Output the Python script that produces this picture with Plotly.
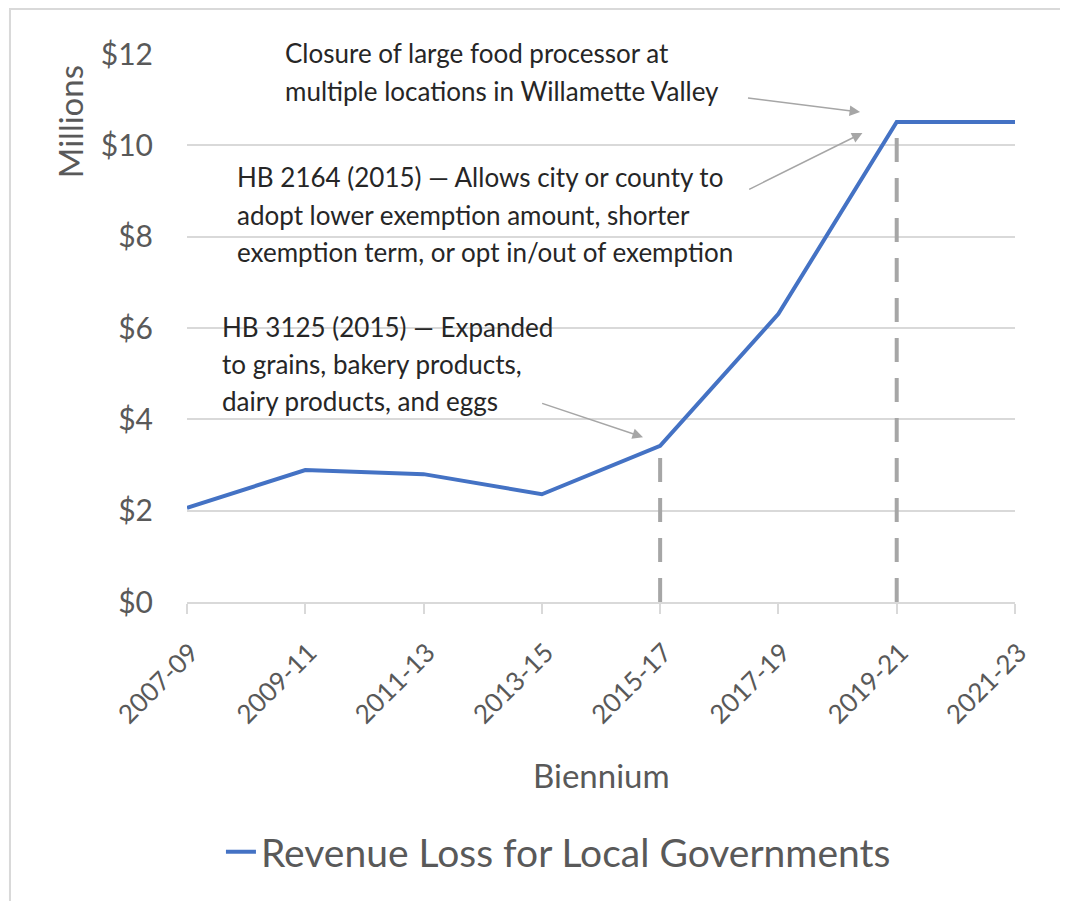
import plotly.graph_objects as go

# data
biennia = ["2007-09", "2009-11", "2011-13", "2013-15", "2015-17", "2017-19", "2019-21", "2021-23"]
revenue_loss = [2.06, 2.89, 2.80, 2.36, 3.42, 6.31, 10.51, 10.51]  # $ millions
y_ticks = [0, 2, 4, 6, 8, 10, 12]
y_tick_labels = ["$0", "$2", "$4", "$6", "$8", "$10", "$12"]
marked = [4, 6]  # biennia with policy / closure markers

note_closure = ["Closure of large food processor at",
                "multiple locations in Willamette Valley"]
note_hb2164 = ["HB 2164 (2015) \u2014 Allows city or county to",
               "adopt lower exemption amount, shorter",
               "exemption term, or opt in/out of exemption"]
note_hb3125 = ["HB 3125 (2015) \u2014 Expanded",
               "to grains, bakery products,",
               "dairy products, and eggs"]

FONT = "Lato"
GREY_TXT = "#595959"
GRID = "#D9D9D9"
ARROW = "#A6A6A6"

xs = list(range(len(biennia)))

fig = go.Figure()

for i in marked:
    fig.add_trace(go.Scatter(
        x=[xs[i], xs[i]], y=[0, revenue_loss[i]],
        mode="lines",
        line=dict(color=ARROW, width=4, dash="24px,16px"),
        showlegend=False, hoverinfo="skip"
    ))

fig.add_trace(go.Scatter(
    x=xs, y=revenue_loss,
    mode="lines",
    line=dict(color="#4472C4", width=4),
    name="Revenue Loss for Local Governments"
))

annotations = []

def text_block(lines, x, ys):
    # one annotation per line so the line spacing can follow the original
    for line, y in zip(lines, ys):
        annotations.append(dict(
            x=x, y=y, xref="paper", yref="paper", text=line, showarrow=False,
            xanchor="left", yanchor="middle",
            font=dict(family=FONT, size=26, color="#262626")
        ))

text_block(note_closure, 0.1159, [1.0018, 0.9325])
text_block(note_hb2164, 0.058, [0.7755, 0.7062, 0.6387])
text_block(note_hb3125, 0.0399, [0.5018, 0.4343, 0.3668])

# arrows: (head x, head y, tail x, tail y) in data units
for hx, hy, tx, ty in [(5.69, 10.73, 4.73, 11.04),
                       (5.71, 10.27, 4.74, 9.02),
                       (3.855, 3.61, 2.99, 4.36)]:
    annotations.append(dict(
        x=hx, y=hy, ax=tx, ay=ty, xref="x", yref="y", axref="x", ayref="y",
        text="", showarrow=True, arrowhead=2, arrowsize=1.4, arrowwidth=1.5,
        arrowcolor=ARROW
    ))

annotations.append(dict(
    x=-0.141, y=0.876, xref="paper", yref="paper", text="Millions",
    textangle=-90, showarrow=False, xanchor="center", yanchor="middle",
    font=dict(family=FONT, size=33, color=GREY_TXT)
))
annotations.append(dict(
    x=0.501, y=-0.316, xref="paper", yref="paper", text="Biennium",
    showarrow=False, xanchor="center", yanchor="middle",
    font=dict(family=FONT, size=33, color=GREY_TXT)
))

fig.update_layout(
    width=1060, height=893,
    margin=dict(l=179, r=53, t=46, b=299),
    paper_bgcolor="white", plot_bgcolor="white",
    font=dict(family=FONT, color=GREY_TXT),
    xaxis=dict(
        range=[0, 7], tickvals=xs, ticktext=biennia, tickangle=-45,
        tickfont=dict(size=26, color=GREY_TXT),
        showgrid=False, zeroline=False,
        showline=True, linecolor=GRID, linewidth=2,
        ticks="outside", ticklen=10, tickcolor=GRID, tickwidth=2,
        ticklabelstandoff=13, ticklabelshift=4,
    ),
    yaxis=dict(
        range=[0, 12], tickvals=y_ticks, ticktext=y_tick_labels,
        tickfont=dict(size=30, color=GREY_TXT),
        showgrid=True, gridcolor=GRID, gridwidth=1.5,
        zeroline=False, showline=False, ticks="", ticklabelstandoff=33,
    ),
    showlegend=True,
    legend=dict(
        orientation="h", x=0.041, y=-0.456, xanchor="left", yanchor="middle",
        font=dict(family=FONT, size=39, color=GREY_TXT),
        bgcolor="rgba(0,0,0,0)"
    ),
    annotations=annotations,
    shapes=[dict(
        type="rect", xref="paper", yref="paper",
        x0=-0.2138, x1=1.2, y0=-0.7, y1=1.0821,
        line=dict(color=GRID, width=2), fillcolor="rgba(0,0,0,0)", layer="below"
    )],
)

fig.write_html("out.html")
